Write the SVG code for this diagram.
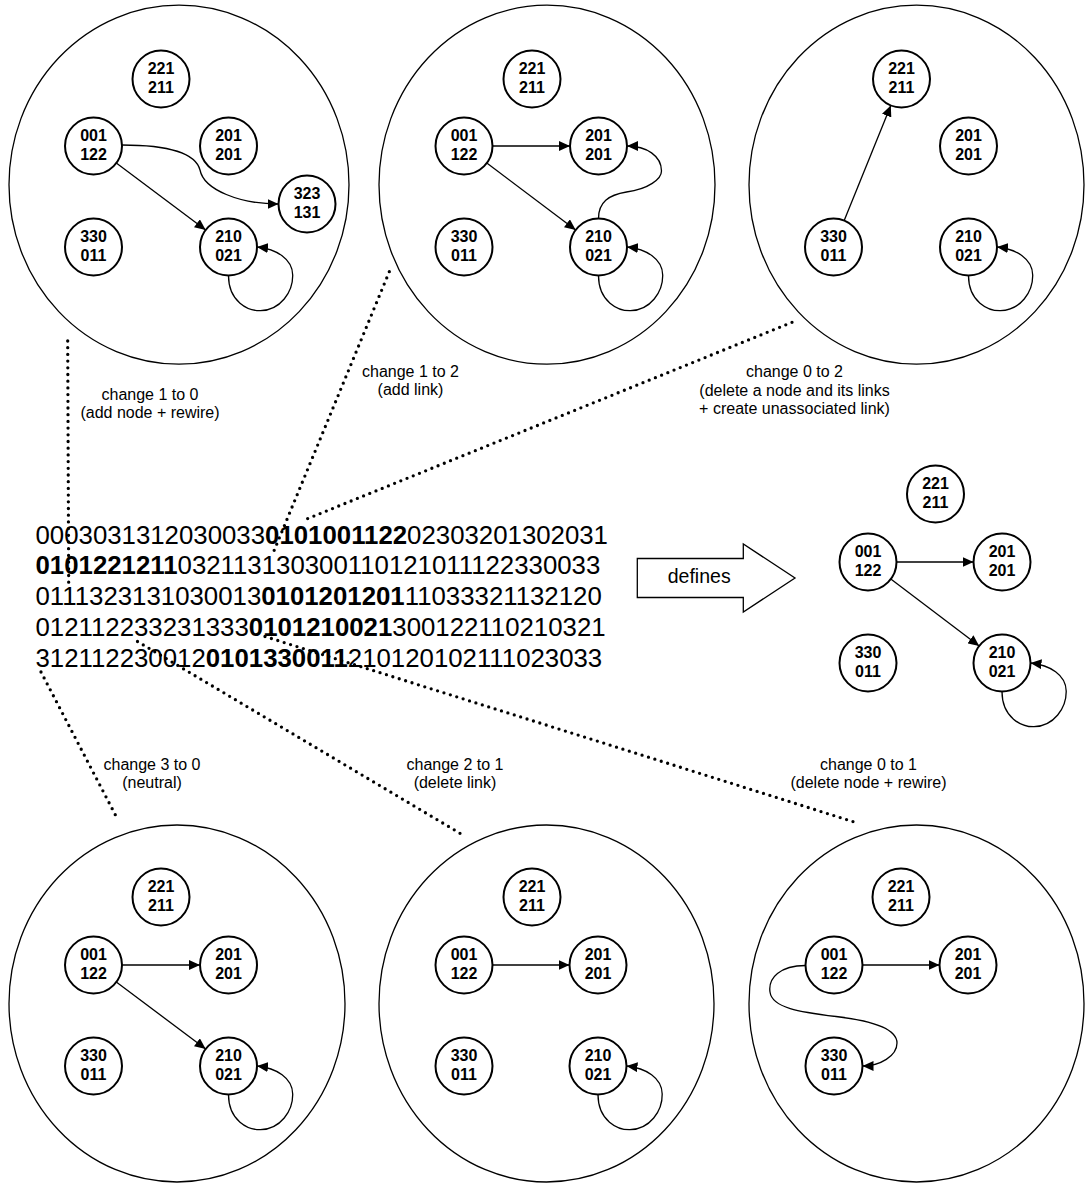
<svg xmlns="http://www.w3.org/2000/svg" width="1085" height="1184" viewBox="0 0 1085 1184">
<style>
.big{fill:none;stroke:#000;stroke-width:1.3}
.nd circle{fill:#fff;stroke:#000;stroke-width:2}
.nd text{font-family:"Liberation Sans",Arial,sans-serif;font-weight:bold;font-size:16px;text-anchor:middle;fill:#000}
.edge{fill:none;stroke:#000;stroke-width:1.3;marker-end:url(#ah)}
.dot{fill:none;stroke:#000;stroke-width:3.3;stroke-linecap:round;stroke-dasharray:0 6.7}
.lbl{font-family:"Liberation Sans",Arial,sans-serif;font-size:16px;text-anchor:middle;fill:#000}
.seq{font-family:"Liberation Sans",Arial,sans-serif;font-size:25.8px;fill:#000}
.seq tspan.b{font-weight:bold}
</style>
<defs>
<marker id="ah" viewBox="0 0 11 10" refX="11" refY="5" markerWidth="11" markerHeight="10" markerUnits="userSpaceOnUse" orient="auto">
<path d="M0,0 L11,5 L0,10 z" fill="#000"/>
</marker>
</defs>

<g id="clusters">
<ellipse id="cl-tl" class="big" cx="179" cy="184.7" rx="170" ry="179.5"/>
<ellipse id="cl-tm" class="big" cx="547" cy="184.7" rx="168" ry="179.5"/>
<ellipse id="cl-tr" class="big" cx="916.5" cy="184.7" rx="167.5" ry="179.5"/>
<ellipse id="cl-bl" class="big" cx="177" cy="1003.5" rx="168" ry="178.5"/>
<ellipse id="cl-bm" class="big" cx="546.5" cy="1003.5" rx="167.5" ry="178.5"/>
<ellipse id="cl-br" class="big" cx="916.5" cy="1003.5" rx="167.5" ry="178.5"/>
</g>

<g id="pointers">
<path class="dot" d="M67.7,341 L68.7,587"/>
<path class="dot" d="M389.3,271.7 L273.5,552"/>
<path class="dot" d="M792,322.3 L303,520.5"/>
<path class="dot" d="M41,672 L118.3,820.5"/>
<path class="dot" d="M137.5,641.5 L461.7,834.3"/>
<path class="dot" d="M265,636.5 L856.5,822.7"/>
</g>

<g id="connectors">
<path class="edge" d="M116.3,163.1 L205.7,229.9"/>
<path class="edge" d="M122,145 C175,145 196,155 200,170 C204,190 240,204 278.5,204"/>
<path class="edge" d="M228.5,275.5 C228.5,302 248.5,311 260.5,310.7 C280.5,310 293,292 292.7,275 C292.5,259 276.5,249 257,247"/>
<path class="edge" d="M492.5,146 L570,146"/>
<path class="edge" d="M486.8,163.1 L575.7,229.9"/>
<path class="edge" d="M598.5,218.5 C598.5,202 608.5,195 626.5,192 C648.5,189 661.5,179 661.5,171 C661.5,156 646.5,146 627,146"/>
<path class="edge" d="M598.5,275.5 C598.5,302 618.5,311 630.5,310.7 C650.5,310 663,292 662.7,275 C662.5,259 646.5,249 627,247"/>
<path class="edge" d="M844.2,220.6 L890.8,105.4"/>
<path class="edge" d="M968.5,275.5 C968.5,302 988.5,311 1000.5,310.7 C1020.5,310 1033,292 1032.7,275 C1032.5,259 1016.5,249 997,247"/>
<path class="edge" d="M896.5,562 L973.5,562"/>
<path class="edge" d="M890.8,579.1 L979.2,645.9"/>
<path class="edge" d="M1002,691.5 C1002,718 1022,727 1034,726.7 C1054,726 1066.5,708 1066.2,691 C1066,675 1050,665 1030.5,663"/>
<path class="edge" d="M122,965 L200,965"/>
<path class="edge" d="M116.3,982.1 L205.7,1048.9"/>
<path class="edge" d="M228.5,1094.5 C228.5,1121 248.5,1130 260.5,1129.7 C280.5,1129 293,1111 292.7,1094 C292.5,1078 276.5,1068 257,1066"/>
<path class="edge" d="M492.5,965 L569.5,965"/>
<path class="edge" d="M598,1094.5 C598,1121 618,1130 630,1129.7 C650,1129 662.5,1111 662.2,1094 C662,1078 646,1068 626.5,1066"/>
<path class="edge" d="M862.5,965 L939.5,965"/>
<path class="edge" d="M805.5,965.5 C780,965.5 768,978 770,992 C772,1008 800,1012 836,1016.5 C875,1021 897,1030 897,1043 C897,1056 880,1066 862.5,1066"/>
</g>

<g id="nodes" class="nd">
<g id="tl-221" transform="translate(161,79)"><circle r="28.5"/><text y="-4.6">221</text><text y="14">211</text></g>
<g id="tl-001" transform="translate(93.5,146)"><circle r="28.5"/><text y="-4.6">001</text><text y="14">122</text></g>
<g id="tl-201" transform="translate(228.5,146)"><circle r="28.5"/><text y="-4.6">201</text><text y="14">201</text></g>
<g id="tl-323" transform="translate(307,204)"><circle r="28.5"/><text y="-4.6">323</text><text y="14">131</text></g>
<g id="tl-330" transform="translate(93.5,247)"><circle r="28.5"/><text y="-4.6">330</text><text y="14">011</text></g>
<g id="tl-210" transform="translate(228.5,247)"><circle r="28.5"/><text y="-4.6">210</text><text y="14">021</text></g>

<g id="tm-221" transform="translate(532,79)"><circle r="28.5"/><text y="-4.6">221</text><text y="14">211</text></g>
<g id="tm-001" transform="translate(464,146)"><circle r="28.5"/><text y="-4.6">001</text><text y="14">122</text></g>
<g id="tm-201" transform="translate(598.5,146)"><circle r="28.5"/><text y="-4.6">201</text><text y="14">201</text></g>
<g id="tm-330" transform="translate(464,247)"><circle r="28.5"/><text y="-4.6">330</text><text y="14">011</text></g>
<g id="tm-210" transform="translate(598.5,247)"><circle r="28.5"/><text y="-4.6">210</text><text y="14">021</text></g>

<g id="tr-221" transform="translate(901.5,79)"><circle r="28.5"/><text y="-4.6">221</text><text y="14">211</text></g>
<g id="tr-201" transform="translate(968.5,146)"><circle r="28.5"/><text y="-4.6">201</text><text y="14">201</text></g>
<g id="tr-330" transform="translate(833.5,247)"><circle r="28.5"/><text y="-4.6">330</text><text y="14">011</text></g>
<g id="tr-210" transform="translate(968.5,247)"><circle r="28.5"/><text y="-4.6">210</text><text y="14">021</text></g>

<g id="df-221" transform="translate(935.5,494)"><circle r="28.5"/><text y="-4.6">221</text><text y="14">211</text></g>
<g id="df-001" transform="translate(868,562)"><circle r="28.5"/><text y="-4.6">001</text><text y="14">122</text></g>
<g id="df-201" transform="translate(1002,562)"><circle r="28.5"/><text y="-4.6">201</text><text y="14">201</text></g>
<g id="df-330" transform="translate(868,663)"><circle r="28.5"/><text y="-4.6">330</text><text y="14">011</text></g>
<g id="df-210" transform="translate(1002,663)"><circle r="28.5"/><text y="-4.6">210</text><text y="14">021</text></g>

<g id="bl-221" transform="translate(161,897)"><circle r="28.5"/><text y="-4.6">221</text><text y="14">211</text></g>
<g id="bl-001" transform="translate(93.5,965)"><circle r="28.5"/><text y="-4.6">001</text><text y="14">122</text></g>
<g id="bl-201" transform="translate(228.5,965)"><circle r="28.5"/><text y="-4.6">201</text><text y="14">201</text></g>
<g id="bl-330" transform="translate(93.5,1066)"><circle r="28.5"/><text y="-4.6">330</text><text y="14">011</text></g>
<g id="bl-210" transform="translate(228.5,1066)"><circle r="28.5"/><text y="-4.6">210</text><text y="14">021</text></g>

<g id="bm-221" transform="translate(532,897)"><circle r="28.5"/><text y="-4.6">221</text><text y="14">211</text></g>
<g id="bm-001" transform="translate(464,965)"><circle r="28.5"/><text y="-4.6">001</text><text y="14">122</text></g>
<g id="bm-201" transform="translate(598,965)"><circle r="28.5"/><text y="-4.6">201</text><text y="14">201</text></g>
<g id="bm-330" transform="translate(464,1066)"><circle r="28.5"/><text y="-4.6">330</text><text y="14">011</text></g>
<g id="bm-210" transform="translate(598,1066)"><circle r="28.5"/><text y="-4.6">210</text><text y="14">021</text></g>

<g id="br-221" transform="translate(901,897)"><circle r="28.5"/><text y="-4.6">221</text><text y="14">211</text></g>
<g id="br-001" transform="translate(834,965)"><circle r="28.5"/><text y="-4.6">001</text><text y="14">122</text></g>
<g id="br-201" transform="translate(968,965)"><circle r="28.5"/><text y="-4.6">201</text><text y="14">201</text></g>
<g id="br-330" transform="translate(834,1066)"><circle r="28.5"/><text y="-4.6">330</text><text y="14">011</text></g>
</g>

<g id="sequence" class="seq">
<text x="35.5" y="543.5">0003031312030033<tspan class="b">0101001122</tspan>02303201302031</text>
<text x="35.5" y="574.4"><tspan class="b">0101221211</tspan>032113130300110121011122330033</text>
<text x="35.5" y="605.3">0111323131030013<tspan class="b">0101201201</tspan>11033321132120</text>
<text x="35.5" y="636.2">012112233231333<tspan class="b">0101210021</tspan>300122110210321</text>
<text x="35.5" y="667.1">312112230012<tspan class="b">0101330011</tspan>210120102111023033</text>
</g>

<g id="defines">
<polygon points="637.3,558.5 743.3,558.5 743.3,544 795,578 743.3,612 743.3,597.5 637.3,597.5" fill="#fff" stroke="#000" stroke-width="1.3"/>
<text x="699.2" y="583" font-family="Liberation Sans, Arial, sans-serif" font-size="19.5px" text-anchor="middle">defines</text>
</g>

<g id="labels" class="lbl">
<text x="150" y="400">change 1 to 0</text>
<text x="150" y="418.4">(add node + rewire)</text>
<text x="410.5" y="376.7">change 1 to 2</text>
<text x="410.5" y="395.1">(add link)</text>
<text x="794.5" y="377.3">change 0 to 2</text>
<text x="794.5" y="395.7">(delete a node and its links</text>
<text x="794.5" y="414.1">+ create unassociated link)</text>
<text x="152" y="770">change 3 to 0</text>
<text x="152" y="788.4">(neutral)</text>
<text x="455" y="770">change 2 to 1</text>
<text x="455" y="788.4">(delete link)</text>
<text x="868.5" y="770">change 0 to 1</text>
<text x="868.5" y="788.4">(delete node + rewire)</text>
</g>
</svg>
